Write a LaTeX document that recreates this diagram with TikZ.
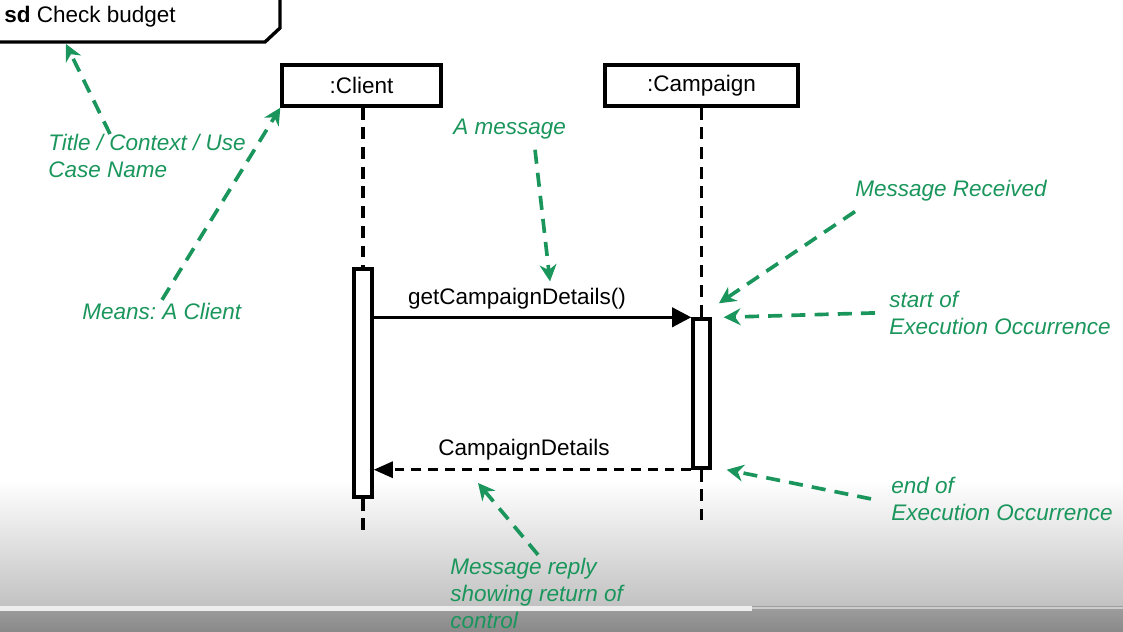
\documentclass[tikz,border=0pt]{standalone}
\usepackage{fontspec}
\setmainfont{Liberation Sans}
\usetikzlibrary{arrows.meta}
\definecolor{notegreen}{RGB}{26,150,92}

\begin{document}
\frenchspacing
\begin{tikzpicture}[x=0.025cm, y=-0.025cm,
  every node/.style={font=\fontsize{16}{19}\selectfont, inner sep=0pt},
  lifebox/.style={draw, line width=2.4pt, minimum width=3.975cm, minimum height=1.025cm},
  actbox/.style={draw, line width=2.4pt, fill=white, minimum width=0.45cm},
  lifeline/.style={line width=2.4pt, dash pattern=on 8.5pt off 5.5pt},
  msg/.style={line width=2.4pt, -{Triangle[length=0.48cm,width=0.48cm]}},
  reply/.style={line width=2.4pt, dash pattern=on 7pt off 5pt, -{Triangle[length=0.48cm,width=0.4cm]}},
  note/.style={text=notegreen, font=\fontsize{16}{19}\selectfont\itshape, align=left, anchor=north west},
  notearrow/.style={notegreen, line width=2.6pt, dash pattern=on 10pt off 6.5pt, -{Stealth[length=0.42cm,width=0.42cm]}}]
\useasboundingbox (0,0) rectangle (1123,631);
\shade[top color=white, bottom color=black!24] (0,480) rectangle (1123,606);
\shade[top color=black!38, bottom color=black!46] (0,606) rectangle (1123,631);
\fill[black!7] (0,606) rectangle (752,611);
\fill[black!20] (752,607) rectangle (1123,609);

\node[anchor=north west] (title) at (4,6) {\textbf{sd} Check budget};
\draw[line width=2.4pt] (-2,42) -- (265,42) -- (280,28) -- (280,-2);
\coordinate (titleline) at (66,44);

\node[lifebox] (client) at (361.5,85.5) {:Client};
\node[lifebox, minimum width=4.825cm] (campaign) at (701.5,85.5) {:Campaign};
\node[actbox, minimum height=5.7cm] (clientact) at (363,383) {};
\node[actbox, minimum width=0.425cm, minimum height=3.725cm] (campact) at (701.5,393.5) {};
\coordinate (clientend) at (363,535);
\coordinate (campend) at (701.5,520);

\draw[lifeline] (client.south -| clientact.north) -- (clientact.north);
\draw[lifeline] (clientact.south) -- (clientend);
\draw[lifeline] (campaign.south) -- (campact.north);
\draw[lifeline] (campact.south) -- (campend);

\draw[msg] (clientact.east |- campact.north west) -- (campact.north west);
\node[anchor=base] (getlabel) at (517,304) {getCampaignDetails()};
\draw[reply] (campact.south west) -- (clientact.east |- campact.south west);
\node[anchor=base] (replylabel) at (524,455) {CampaignDetails};

\node[note] (titlenote) at (48,134) {Title / Context / Use\\Case Name};
\node[note] (meansnote) at (82,303) {Means: A Client};
\node[note] (msgnote) at (453,119) {A message};
\node[note] (recvnote) at (855,180) {Message Received};
\node[note] (startnote) at (889,291) {start of\\Execution Occurrence};
\node[note] (endnote) at (891,477) {end of\\Execution Occurrence};
\node[note] (replynote) at (450,558) {Message reply\\showing return of\\control};
\coordinate (replytip) at (478,483);

\draw[notearrow] ([xshift=1.55cm]titlenote.north west) -- (titleline);
\draw[notearrow] ([shift={(2cm,0.08cm)}]meansnote.north west) -- (client.south west);
\draw[notearrow] ([shift={(2.05cm,-0.25cm)}]msgnote.south west) -- ([shift={(0.825cm,0.15cm)}]getlabel.north);
\draw[notearrow] ([yshift=-0.25cm]recvnote.south west) -- ([shift={(0.18cm,0.35cm)}]campact.north east);
\draw[notearrow] ([xshift=-0.35cm]startnote.west) -- ([xshift=0.3cm]campact.north east);
\draw[notearrow] ([xshift=-0.5cm]endnote.west) -- ([xshift=0.375cm]campact.south east);
\draw[notearrow] ([shift={(2.2cm,0.08cm)}]replynote.north west) -- (replytip);
\end{tikzpicture}
\end{document}
